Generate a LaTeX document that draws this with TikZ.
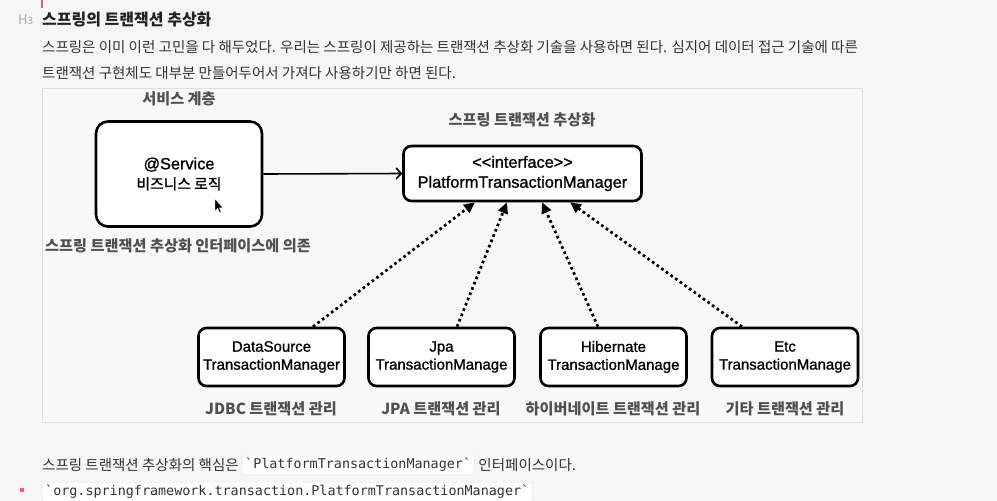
\documentclass[tikz,border=0pt]{standalone}
\usepackage{fontspec}
\setmainfont{Noto Sans CJK KR}
\newfontfamily\helv{Liberation Sans}[FakeBold=1.1]
\newfontfamily\krm{Noto Sans CJK KR}[FakeBold=1.0]
\newfontfamily\mono{DejaVu Sans Mono}
\usetikzlibrary{arrows.meta,calc}
\definecolor{pagebg}{HTML}{F5F6F5}
\definecolor{panelbg}{HTML}{F7F8F7}
\definecolor{panelline}{HTML}{DEDFDE}
\definecolor{bodytext}{HTML}{333333}
\definecolor{titletext}{HTML}{222222}
\definecolor{labeltext}{HTML}{505050}
\definecolor{hgray}{HTML}{AAAAAA}
\definecolor{accent}{HTML}{E0606E}
\definecolor{codeline}{HTML}{E3E3E3}
\tikzset{
  bx/.style={draw=black, line width=2.6pt, fill=white, rounded corners=8pt, align=center, inner sep=0pt},
  toplbl/.style={font=\fontsize{16.3}{20}\selectfont, text=black},
  botlbl/.style={font=\fontsize{15}{18}\selectfont, text=black},
  glabel/.style={font=\bfseries\fontsize{15.2}{16}\selectfont, text=labeltext, inner sep=0pt},
  body/.style={font=\fontsize{14.5}{16}\selectfont, text=bodytext, anchor=west, inner sep=0pt},
  codebox/.style={draw=codeline, fill=white, rounded corners=2pt, font=\mono\fontsize{13.4}{15}\selectfont, text=bodytext, inner xsep=3pt, inner ysep=3pt, anchor=west},
  solidarrow/.style={line width=1.6pt, -{Straight Barb[length=5pt,width=11pt,line width=1.6pt]}},
  dotarrow/.style={line width=2.7pt, dash pattern=on 2.7pt off 3pt, -{Triangle[length=11pt,width=10pt]}}
}
\begin{document}
\begin{tikzpicture}[x=1pt,y=-1pt]
\useasboundingbox[fill=pagebg] (0,0) rectangle (997,501);
% top accent
\draw[accent, line width=1.5pt] (42,0) -- (42,8);
% heading
\node[anchor=west, inner sep=0pt, text=hgray, font=\fontsize{13}{14}\selectfont] (h3) at (18,20) {H\raisebox{-0.5pt}{\fontsize{10}{10}\selectfont 3}};
\node[anchor=west, inner sep=0pt, text=titletext, font=\bfseries\fontsize{16}{18}\selectfont] (title) at (42,20) {스프링의 트랜잭션 추상화};
\node[body] (p1) at (42,47) {스프링은 이미 이런 고민을 다 해두었다. 우리는 스프링이 제공하는 트랜잭션 추상화 기술을 사용하면 된다. 심지어 데이터 접근 기술에 따른};
\node[body] (p2) at (42,73) {트랜잭션 구현체도 대부분 만들어두어서 가져다 사용하기만 하면 된다.};
% panel
\draw[panelline, fill=panelbg, line width=0.8pt] (42,88) rectangle (862,422);
% boxes
\node[bx, toplbl, rounded corners=12pt, minimum width=166pt, minimum height=105pt] (svc) at (179,174) {{\helv @Service}\\{\krm\fontsize{14.8}{20}\selectfont 비즈니스 로직}};
\node[bx, toplbl, minimum width=238pt, minimum height=55pt] (ptm) at (522.5,173.5) {{\helv <<interface>>}\\{\helv PlatformTransactionManager}};
\node[bx, botlbl, minimum width=146pt, minimum height=58pt] (ds) at (271.5,357) {{\helv DataSource}\\{\helv TransactionManager}};
\node[bx, botlbl, minimum width=146pt, minimum height=58pt] (jpa) at (441.5,357) {{\helv Jpa}\\{\helv TransactionManage}};
\node[bx, botlbl, minimum width=146pt, minimum height=58pt] (hib) at (613.5,357) {{\helv Hibernate}\\{\helv TransactionManage}};
\node[bx, botlbl, minimum width=146pt, minimum height=58pt] (etc) at (785,357) {{\helv Etc}\\{\helv TransactionManage}};
% labels
\node[glabel] (lsvc) at (179,99) {서비스 계층};
\node[glabel, anchor=west] (ldep) at (45,246) {스프링 트랜잭션 추상화 인터페이스에 의존};
\node[glabel] (labs) at (522,120) {스프링 트랜잭션 추상화};
\node[glabel] (lds) at (271,409) {JDBC 트랜잭션 관리};
\node[glabel] (ljpa) at (441,409) {JPA 트랜잭션 관리};
\node[glabel] (lhib) at (613,409) {하이버네이트 트랜잭션 관리};
\node[glabel] (letc) at (785,409) {기타 트랜잭션 관리};
% connectors
\draw[solidarrow] (svc.east) -- (ptm.west);
\draw[dotarrow] ([xshift=41.5pt]ds.north) -- ([xshift=-47.5pt]ptm.south);
\draw[dotarrow] ([xshift=15.5pt]jpa.north) -- ([xshift=-15.5pt]ptm.south);
\draw[dotarrow] ([xshift=-15.5pt]hib.north) -- ([xshift=19.5pt]ptm.south);
\draw[dotarrow] ([xshift=-43pt]etc.north) -- ([xshift=47.5pt]ptm.south);
% cursor
\draw[fill=black, draw=white, line width=0.4pt] (215,199) -- (215,211) -- (217.8,208.4) -- (219.6,212.6) -- (221.2,211.9) -- (219.4,207.8) -- (223,207.8) -- cycle;
% bottom text
\node[body] (q1) at (42,465) {스프링 트랜잭션 추상화의 핵심은};
\node[codebox] (c1) at (242,465) {`PlatformTransactionManager`};
\node[body] (q2) at ([xshift=4pt]c1.east) {인터페이스이다.};
\fill[accent] (22,490) circle (2.3pt);
\node[codebox] (c2) at (42,492) {`org.springframework.transaction.PlatformTransactionManager`};
\end{tikzpicture}
\end{document}
